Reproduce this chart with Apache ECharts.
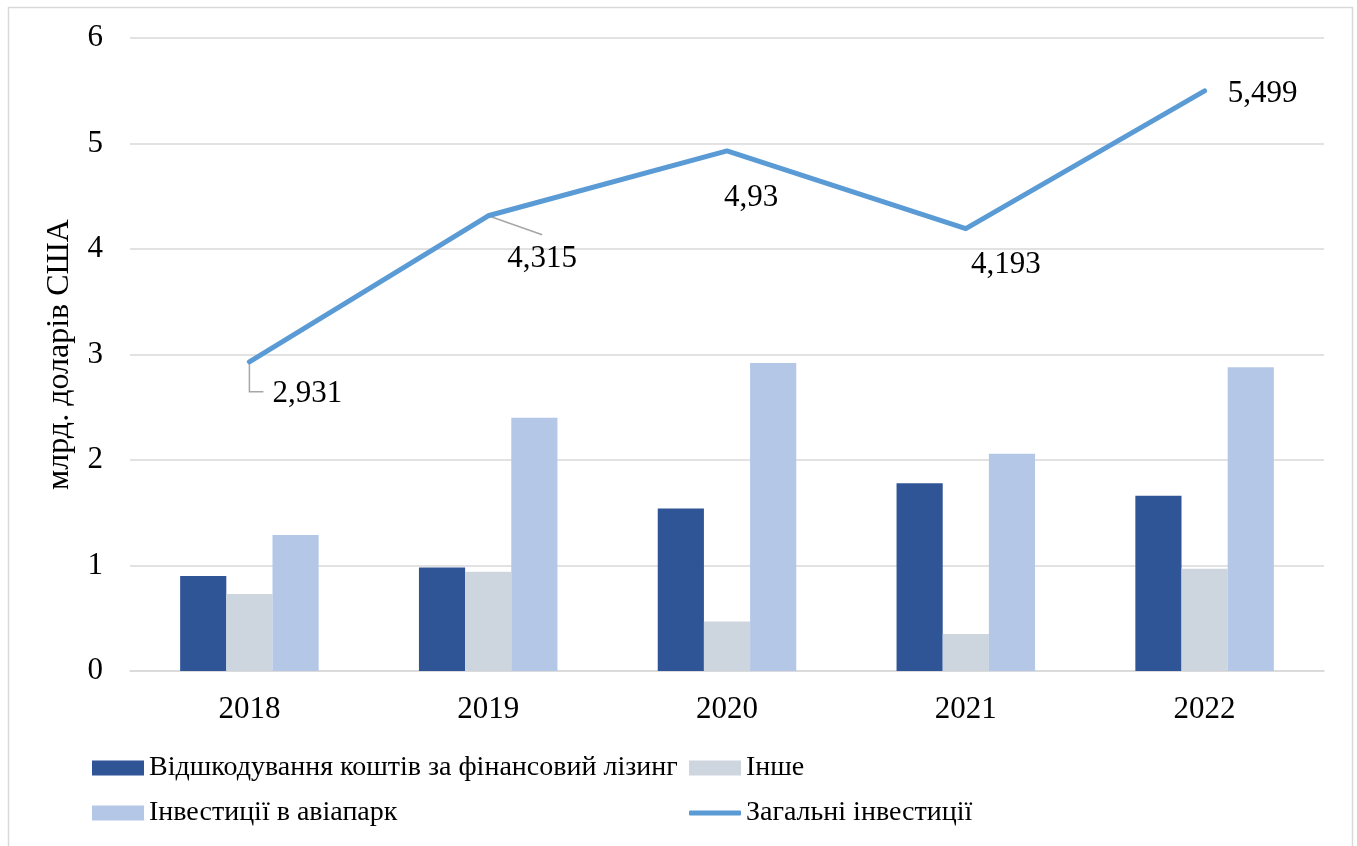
<!DOCTYPE html>
<html>
<head>
<meta charset="utf-8">
<script src="https://cdn.jsdelivr.net/npm/echarts@6/dist/echarts.min.js"></script>
<style>
  html, body { margin: 0; padding: 0; background: #fff; }
  #chart { width: 1357px; height: 846px; }
</style>
</head>
<body>
<div id="chart"></div>
<script>
// Categories (years)
const years = ['2018', '2019', '2020', '2021', '2022'];

// Series values, bn USD
const financeLeaseRecovery = [0.90, 0.98, 1.54, 1.78, 1.66];
const other = [0.73, 0.94, 0.47, 0.35, 0.97];
const fleetInvestment = [1.29, 2.40, 2.92, 2.06, 2.88];
const totalInvestment = [2.931, 4.315, 4.93, 4.193, 5.499];

// Series names
const names = [
  'Відшкодування коштів за фінансовий лізинг',
  'Інше',
  'Інвестиції в авіапарк',
  'Загальні інвестиції'
];

// Placement of the total-line labels: offset of label centre from its point, px
const totalLabelOffsets = [[58, 32], [54, 43], [24, 47], [40, 36], [58, 3]];
// Leader-line shapes relative to the point (null = no leader)
const totalLeaders = [
  [[0, 1], [0, 30], [14, 30]],
  [[0, 0], [54, 19]],
  null, null, null
];

const FONT = '"Liberation Serif", "Times New Roman", serif';
const chart = echarts.init(document.getElementById('chart'));

function legendItem(name, left, top, opts) {
  return Object.assign({
    data: [name],
    left: left,
    top: top,
    orient: 'horizontal',
    itemWidth: 52,
    itemHeight: 15,
    icon: 'rect',
    selectedMode: false,
    padding: 0,
    textStyle: { fontFamily: FONT, fontSize: 28, color: '#000' }
  }, opts || {});
}

chart.setOption({
  backgroundColor: '#fff',
  animation: false,
  grid: { left: 130, right: 33, top: 38, bottom: 175, containLabel: false },
  legend: [
    legendItem(names[0], 92, 754),
    legendItem(names[1], 689, 754),
    legendItem(names[2], 92, 799),
    legendItem(names[3], 689, 799, { icon: 'roundRect', itemHeight: 5 })
  ],
  xAxis: {
    type: 'category',
    data: years,
    axisLine: { show: true, lineStyle: { color: '#D9D9D9', width: 1.5 } },
    axisTick: { show: false },
    axisLabel: { fontFamily: FONT, fontSize: 31, color: '#000', margin: 23 }
  },
  yAxis: {
    type: 'value',
    min: 0,
    max: 6,
    interval: 1,
    name: 'млрд. доларів США',
    nameLocation: 'middle',
    nameGap: 54,
    nameTextStyle: { fontFamily: FONT, fontSize: 32, color: '#000' },
    axisLine: { show: false },
    axisTick: { show: false },
    splitLine: { lineStyle: { color: '#D9D9D9', width: 1.5 } },
    axisLabel: { fontFamily: FONT, fontSize: 31, color: '#000', margin: 27 }
  },
  series: [
    {
      name: names[0], type: 'bar', data: financeLeaseRecovery,
      barGap: '0%', barCategoryGap: '42%',
      itemStyle: { color: '#2F5597' }
    },
    {
      name: names[1], type: 'bar', data: other,
      barGap: '0%', barCategoryGap: '42%',
      itemStyle: { color: '#CDD5DF' }
    },
    {
      name: names[2], type: 'bar', data: fleetInvestment,
      barGap: '0%', barCategoryGap: '42%',
      itemStyle: { color: '#B4C7E7' }
    },
    {
      name: names[3], type: 'line',
      data: totalInvestment,
      symbol: 'circle', symbolSize: 2, showSymbol: true,
      itemStyle: { color: '#5B9BD5' },
      lineStyle: { color: '#5B9BD5', width: 5, cap: 'round', join: 'round' },
      z: 5,
      label: {
        show: true,
        position: 'inside',
        fontFamily: FONT, fontSize: 31, color: '#000',
        formatter: p => String(p.value).replace('.', ',')
      },
      labelLayout: function (p) {
        const off = totalLabelOffsets[p.dataIndex];
        const cx = p.rect.x + p.rect.width / 2;
        const cy = p.rect.y + p.rect.height / 2;
        return {
          x: cx + off[0],
          y: cy + off[1],
          align: 'center',
          verticalAlign: 'middle'
        };
      }
    }
  ]
});

// Frame and label leader lines (leaders anchored at the line's points via the axes)
const graphics = [{
  type: 'rect',
  shape: { x: 8.5, y: 7.5, width: 1344, height: 900 },
  style: { fill: 'none', stroke: '#D9D9D9', lineWidth: 1.5 },
  silent: true
}];
totalInvestment.forEach((v, i) => {
  const shape = totalLeaders[i];
  if (!shape) return;
  const p = chart.convertToPixel({ seriesIndex: 3 }, [i, v]);
  graphics.push({
    type: 'polyline',
    shape: { points: shape.map(d => [p[0] + d[0], p[1] + d[1]]) },
    style: { stroke: '#A6A6A6', lineWidth: 1.5, fill: null },
    z: 4,
    silent: true
  });
});
chart.setOption({ graphic: graphics });
</script>
</body>
</html>
